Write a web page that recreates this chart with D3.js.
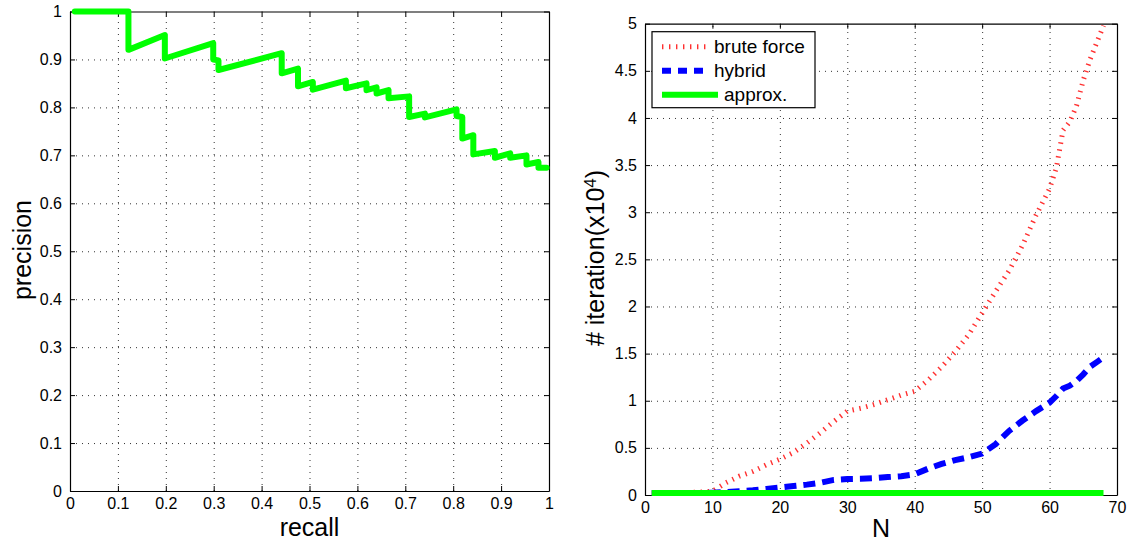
<!DOCTYPE html>
<html>
<head>
<meta charset="utf-8">
<script src="https://cdn.jsdelivr.net/npm/d3@7"></script>
<style>
  body { margin: 0; background: #fff; }
  text { font-family: "Liberation Sans", Arial, sans-serif; fill: #000; }
  .grid line { stroke: #333; stroke-width: 1; stroke-dasharray: 1,5; }
  .grid .domain { display: none; }
  .axis .domain { stroke: #000; stroke-width: 1.2; }
  .axis line { stroke: #000; }
</style>
</head>
<body>
<div id="chart"></div>
<script>
// Left panel: precision / recall curve
const recall    = [0.010, 0.122, 0.122, 0.198, 0.198, 0.299, 0.299, 0.310, 0.310, 0.442, 0.442, 0.476, 0.476, 0.507, 0.507, 0.576, 0.576, 0.619, 0.619, 0.640, 0.640, 0.665, 0.665, 0.708, 0.708, 0.741, 0.741, 0.807, 0.807, 0.819, 0.819, 0.842, 0.842, 0.887, 0.887, 0.919, 0.919, 0.953, 0.953, 0.978, 0.978, 0.995];
const precision = [1.000, 1.000, 0.920, 0.951, 0.902, 0.934, 0.900, 0.898, 0.878, 0.913, 0.871, 0.881, 0.844, 0.853, 0.837, 0.856, 0.840, 0.850, 0.836, 0.842, 0.829, 0.836, 0.819, 0.823, 0.780, 0.787, 0.779, 0.796, 0.782, 0.780, 0.735, 0.742, 0.702, 0.709, 0.695, 0.704, 0.695, 0.700, 0.681, 0.686, 0.674, 0.674];
const unitTicks = [0, 0.1, 0.2, 0.3, 0.4, 0.5, 0.6, 0.7, 0.8, 0.9, 1];

// Right panel: iterations vs N
const nValues    = [1, 4, 8, 10, 12, 14, 16, 18, 20, 22, 24, 26, 28, 30, 32, 34, 36, 38, 40, 42, 44, 46, 48, 50, 52, 54, 56, 58, 60, 61, 62, 63, 64, 65, 66, 67, 68];
const bruteForce = [0.02, 0.02, 0.03, 0.04, 0.13, 0.20, 0.25, 0.32, 0.38, 0.45, 0.55, 0.66, 0.78, 0.89, 0.92, 0.96, 1.01, 1.06, 1.10, 1.22, 1.36, 1.52, 1.70, 1.93, 2.16, 2.38, 2.65, 2.97, 3.25, 3.47, 3.87, 3.96, 4.13, 4.40, 4.62, 4.80, 4.98];
const hybrid     = [0.02, 0.02, 0.02, 0.025, 0.03, 0.04, 0.05, 0.065, 0.08, 0.095, 0.11, 0.13, 0.16, 0.17, 0.172, 0.178, 0.19, 0.20, 0.22, 0.28, 0.33, 0.37, 0.40, 0.44, 0.54, 0.68, 0.79, 0.89, 0.98, 1.05, 1.13, 1.16, 1.21, 1.28, 1.36, 1.41, 1.46];
const approxN    = [1, 68];
const approx     = [0.02, 0.02];
const nTicks     = [0, 10, 20, 30, 40, 50, 60, 70];
const iterTicks  = [0, 0.5, 1, 1.5, 2, 2.5, 3, 3.5, 4, 4.5, 5];
const legendNames = ["brute force", "hybrid", "approx."];

const svg = d3.select("#chart")
    .append("svg")
    .attr("width", 1129)
    .attr("height", 544);

// draws a boxed matlab-style axes with dotted grid, returns the plot group
function panel(left, top, width, height, x, y, xTicks, yTicks) {
    const g = svg.append("g").attr("transform", `translate(${left},${top})`);

    g.append("g").attr("class", "grid")
        .attr("transform", `translate(0,${height})`)
        .call(d3.axisBottom(x).tickValues(xTicks.slice(1, -1)).tickSize(-height).tickFormat(""));
    g.append("g").attr("class", "grid")
        .call(d3.axisLeft(y).tickValues(yTicks.slice(1, -1)).tickSize(-width).tickFormat(""));

    const fmt = d3.format("~g");
    g.append("g").attr("class", "axis")
        .attr("transform", `translate(0,${height})`)
        .call(d3.axisBottom(x).tickValues(xTicks).tickSizeInner(-5).tickSizeOuter(0).tickPadding(7).tickFormat(fmt))
        .selectAll("text").style("font-size", "16px");
    g.append("g").attr("class", "axis")
        .call(d3.axisLeft(y).tickValues(yTicks).tickSizeInner(-5).tickSizeOuter(0).tickPadding(8).tickFormat(fmt))
        .selectAll("text").style("font-size", "16px");
    g.append("g").attr("class", "axis")
        .call(d3.axisTop(x).tickValues(xTicks).tickSizeInner(-5).tickSizeOuter(0).tickFormat(""));
    g.append("g").attr("class", "axis")
        .attr("transform", `translate(${width},0)`)
        .call(d3.axisRight(y).tickValues(yTicks).tickSizeInner(-5).tickSizeOuter(0).tickFormat(""));
    return g;
}

// ---------- left panel ----------
const lw = 479, lh = 479.5;
const x1 = d3.scaleLinear().domain([0, 1]).range([0, lw]);
const y1 = d3.scaleLinear().domain([0, 1]).range([lh, 0]);
const g1 = panel(70, 11.5, lw, lh, x1, y1, unitTicks, unitTicks);

g1.append("path")
    .datum(recall.map((r, i) => [r, precision[i]]))
    .attr("fill", "none")
    .attr("stroke", "#00ff00")
    .attr("stroke-width", 6)
    .attr("stroke-linejoin", "round")
    .attr("stroke-linecap", "round")
    .attr("d", d3.line().x(d => x1(d[0])).y(d => y1(d[1])));

svg.append("text")
    .attr("x", 70 + lw / 2)
    .attr("y", 536)
    .attr("text-anchor", "middle")
    .style("font-size", "25px")
    .text("recall");

svg.append("text")
    .attr("transform", "translate(31,250) rotate(-90)")
    .attr("text-anchor", "middle")
    .style("font-size", "25px")
    .text("precision");

// ---------- right panel ----------
const rw = 472, rh = 471.3;
const x2 = d3.scaleLinear().domain([0, 70]).range([0, rw]);
const y2 = d3.scaleLinear().domain([0, 5]).range([rh, 0]);
const g2 = panel(645, 23.7, rw, rh, x2, y2, nTicks, iterTicks);

const line2 = d3.line().x(d => x2(d[0])).y(d => y2(d[1]));

const styles = [
    { color: "#ff3030", width: 5, dash: "1.4,5.6", cap: "butt" },
    { color: "#0000ff", width: 6, dash: "12,7", cap: "butt" },
    { color: "#00ff00", width: 6, dash: null, cap: "butt" }
];
const series = [
    nValues.map((n, i) => [n, bruteForce[i]]),
    nValues.map((n, i) => [n, hybrid[i]]),
    approxN.map((n, i) => [n, approx[i]])
];

series.forEach((s, i) => {
    g2.append("path")
        .datum(s)
        .attr("fill", "none")
        .attr("stroke", styles[i].color)
        .attr("stroke-width", styles[i].width)
        .attr("stroke-dasharray", styles[i].dash)
        .attr("stroke-linecap", styles[i].cap)
        .attr("d", line2);
});

// legend
const leg = g2.append("g").attr("transform", "translate(7,8)");
leg.append("rect")
    .attr("width", 163)
    .attr("height", 76)
    .attr("fill", "#fff")
    .attr("stroke", "#000")
    .attr("stroke-width", 1.2);
legendNames.forEach((name, i) => {
    const yy = 15 + i * 24;
    const x0 = 10, x1e = i === 2 ? 66 : 57;
    leg.append("line")
        .attr("x1", x0).attr("x2", x1e)
        .attr("y1", yy).attr("y2", yy)
        .attr("stroke", styles[i].color)
        .attr("stroke-width", styles[i].width)
        .attr("stroke-dasharray", i === 1 ? "9,7" : styles[i].dash);
    leg.append("text")
        .attr("x", i === 2 ? 72 : 62)
        .attr("y", yy)
        .attr("dy", "0.35em")
        .style("font-size", "19px")
        .text(name);
});

svg.append("text")
    .attr("x", 645 + rw / 2)
    .attr("y", 537)
    .attr("text-anchor", "middle")
    .style("font-size", "25px")
    .text("N");

const yl = svg.append("text")
    .attr("transform", "translate(604,258) rotate(-90)")
    .attr("text-anchor", "middle")
    .style("font-size", "25px");
yl.append("tspan").text("# iteration(x10");
yl.append("tspan").attr("dy", "-0.45em").style("font-size", "17px").text("4");
yl.append("tspan").attr("dy", "0.3em").text(")");
</script>
</body>
</html>
